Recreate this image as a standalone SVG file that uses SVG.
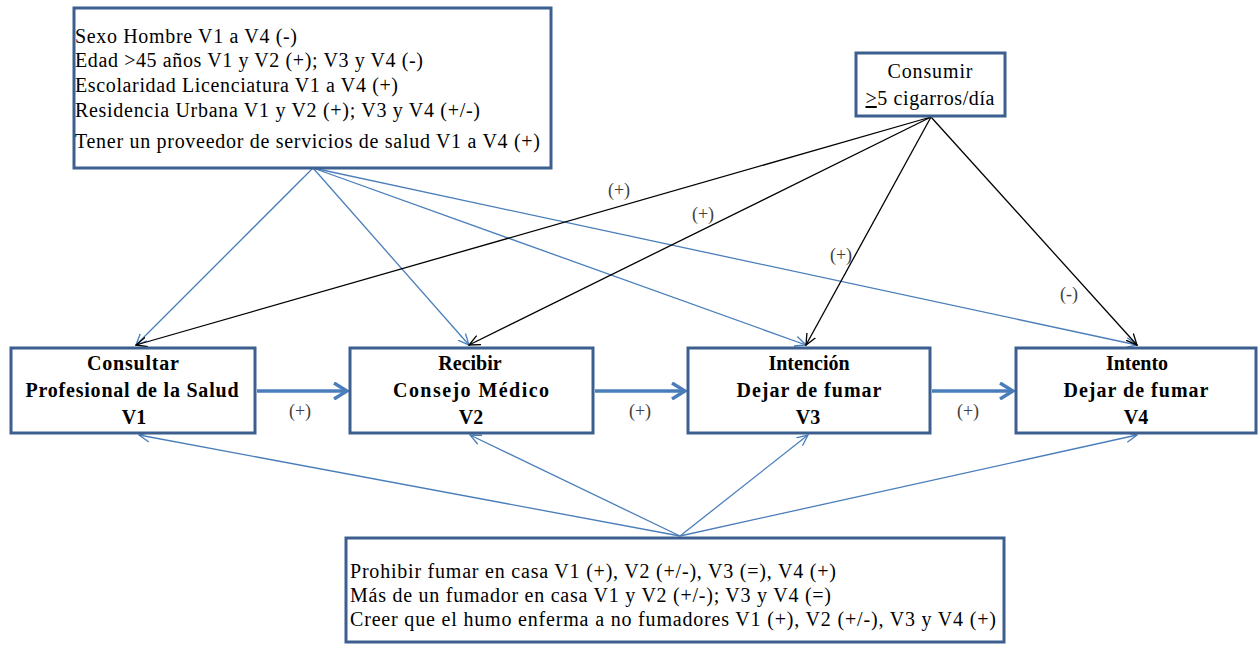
<svg xmlns="http://www.w3.org/2000/svg" width="1258" height="645" viewBox="0 0 1258 645">
<style>
.box{fill:#fff;stroke:#3d5f8f;stroke-width:3}
.t{font-family:"Liberation Serif",serif;font-size:20px;fill:#000}
.b{font-family:"Liberation Serif",serif;font-size:20px;font-weight:bold;fill:#000;text-anchor:middle}
.lbl{font-family:"Liberation Serif",serif;font-size:18px;fill:#404040;text-anchor:middle}
.blue{stroke:#4a7ebb;stroke-width:1.3;fill:none;marker-end:url(#ab)}
.blk{stroke:#000;stroke-width:1.3;fill:none;marker-end:url(#ak)}
.thick{stroke:#4a7ebb;stroke-width:3.5;fill:none;marker-end:url(#at)}
</style>
<defs>
<marker id="ab" viewBox="0 0 12 12" refX="11" refY="6" markerWidth="12" markerHeight="12" markerUnits="userSpaceOnUse" orient="auto"><path d="M0,1 L11,6 L0,11" fill="none" stroke="#4a7ebb" stroke-width="1.3"/></marker>
<marker id="ak" viewBox="0 0 12 12" refX="11" refY="6" markerWidth="12" markerHeight="12" markerUnits="userSpaceOnUse" orient="auto"><path d="M0,1 L11,6 L0,11" fill="none" stroke="#000" stroke-width="1.3"/></marker>
<marker id="at" viewBox="0 0 16 18" refX="14" refY="9" markerWidth="16" markerHeight="18" markerUnits="userSpaceOnUse" orient="auto"><path d="M1,1 L14,9 L1,17" fill="none" stroke="#4a7ebb" stroke-width="3.5"/></marker>
</defs>
<g id="connectors">
<line class="blue" x1="313" y1="168" x2="136" y2="345"/>
<line class="blue" x1="313" y1="168" x2="469" y2="345"/>
<line class="blue" x1="313" y1="168" x2="806" y2="345"/>
<line class="blue" x1="313" y1="168" x2="1137" y2="345"/>
<line class="blk" x1="931" y1="117" x2="136" y2="345"/>
<line class="blk" x1="931" y1="117" x2="469" y2="345"/>
<line class="blk" x1="931" y1="117" x2="806" y2="345"/>
<line class="blk" x1="931" y1="117" x2="1137" y2="345"/>
<line class="thick" x1="257" y1="391" x2="347" y2="391"/>
<line class="thick" x1="595" y1="391" x2="685" y2="391"/>
<line class="thick" x1="932" y1="391" x2="1013" y2="391"/>
<line class="blue" x1="680" y1="536" x2="139" y2="435"/>
<line class="blue" x1="680" y1="536" x2="470" y2="435"/>
<line class="blue" x1="680" y1="536" x2="808" y2="435"/>
<line class="blue" x1="680" y1="536" x2="1137" y2="435"/>
<text class="lbl" x="619" y="196">(+)</text>
<text class="lbl" x="703" y="220">(+)</text>
<text class="lbl" x="841" y="261">(+)</text>
<text class="lbl" x="1069" y="300">(-)</text>
<text class="lbl" x="300" y="417">(+)</text>
<text class="lbl" x="640" y="417">(+)</text>
<text class="lbl" x="968" y="417">(+)</text>
</g>
<g id="factores">
<rect class="box" x="74" y="8" width="477" height="160"/>
<text class="t" x="75" y="43" textLength="222">Sexo Hombre V1 a V4 (-)</text>
<text class="t" x="75" y="67" textLength="348">Edad &gt;45 años V1 y V2 (+); V3 y V4 (-)</text>
<text class="t" x="75" y="92" textLength="323">Escolaridad Licenciatura V1 a V4 (+)</text>
<text class="t" x="75" y="117" textLength="405">Residencia Urbana V1 y V2 (+); V3 y V4 (+/-)</text>
<text class="t" x="75" y="148" textLength="465">Tener un proveedor de servicios de salud V1 a V4 (+)</text>
</g>
<g id="consumir">
<rect class="box" x="856" y="53" width="149" height="63"/>
<text class="t" x="930" y="78" text-anchor="middle" textLength="85">Consumir</text>
<text class="t" x="930" y="105" text-anchor="middle" textLength="129"><tspan text-decoration="underline">&gt;</tspan>5 cigarros/día</text>
</g>
<g id="v1">
<rect class="box" x="11" y="348" width="244" height="85"/>
<text class="b" x="133" y="370" textLength="92">Consultar</text>
<text class="b" x="132" y="397" textLength="213">Profesional de la Salud</text>
<text class="b" x="134" y="424">V1</text>
</g>
<g id="v2">
<rect class="box" x="350" y="348" width="243" height="85"/>
<text class="b" x="470" y="370">Recibir</text>
<text class="b" x="471" y="397" textLength="156">Consejo Médico</text>
<text class="b" x="471" y="424">V2</text>
</g>
<g id="v3">
<rect class="box" x="688" y="348" width="242" height="85"/>
<text class="b" x="809" y="370">Intención</text>
<text class="b" x="809" y="397" textLength="145">Dejar de fumar</text>
<text class="b" x="808" y="424">V3</text>
</g>
<g id="v4">
<rect class="box" x="1016" y="348" width="240" height="85"/>
<text class="b" x="1137" y="370">Intento</text>
<text class="b" x="1136" y="397" textLength="145">Dejar de fumar</text>
<text class="b" x="1136" y="424">V4</text>
</g>
<g id="hogar">
<rect class="box" x="346" y="538" width="658" height="104"/>
<text class="t" x="350" y="578" textLength="486">Prohibir fumar en casa V1 (+), V2 (+/-), V3 (=), V4 (+)</text>
<text class="t" x="350" y="602" textLength="481">Más de un fumador en casa V1 y V2 (+/-); V3  y V4 (=)</text>
<text class="t" x="350" y="626" textLength="646">Creer que el humo enferma a no fumadores V1  (+), V2 (+/-), V3 y V4 (+)</text>
</g>
</svg>
